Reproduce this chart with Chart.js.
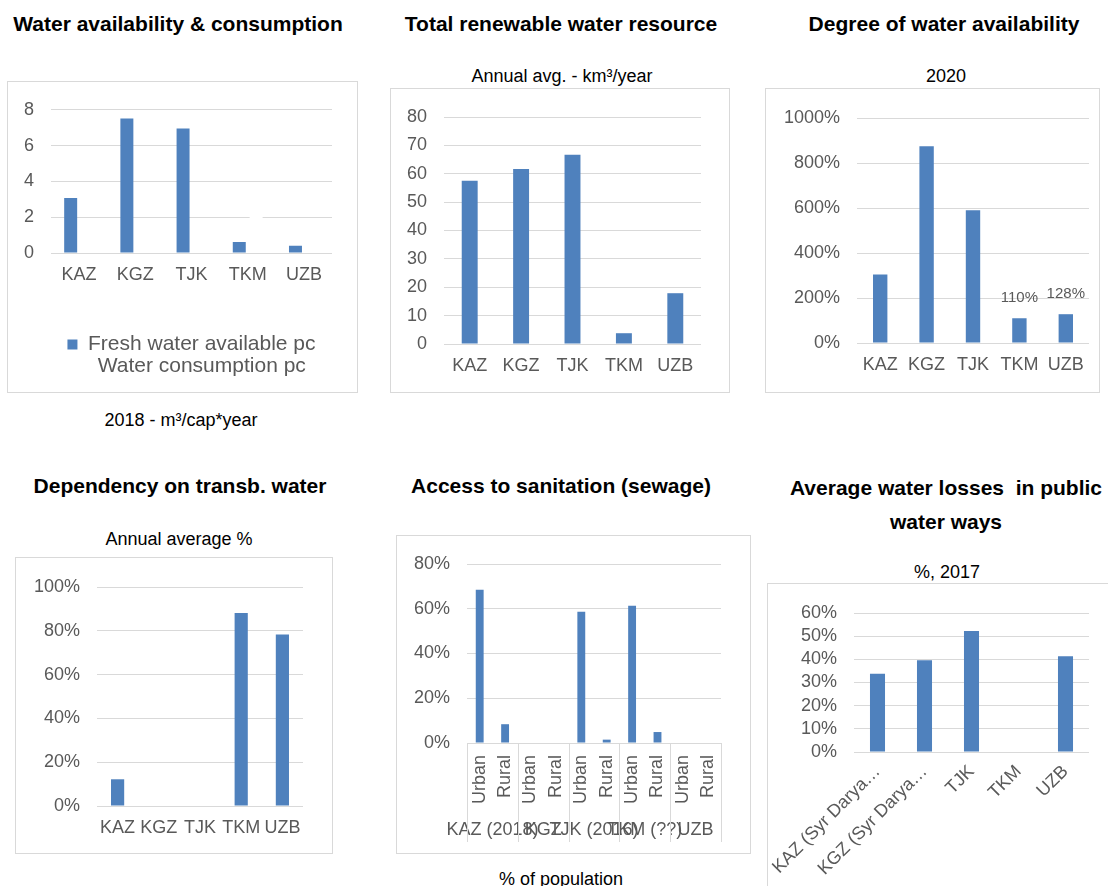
<!DOCTYPE html>
<html><head><meta charset="utf-8">
<script src="https://cdn.jsdelivr.net/npm/chart.js@4.4.1/dist/chart.umd.min.js"></script>
<style>
html,body{margin:0;padding:0;background:#fff;}
body{width:1108px;height:886px;overflow:hidden;position:relative;font-family:'Liberation Sans',Arial,sans-serif;}
.t{position:absolute;width:500px;text-align:center;white-space:nowrap;line-height:1.2;}
.h{font-weight:bold;font-size:21px;color:#000;}
.s{font-size:18px;color:#000;}
.box{position:absolute;border:1px solid #d9d9d9;box-sizing:border-box;}
canvas{position:absolute;}
</style></head><body>
<div class="t h" style="left:-72px;top:11px">Water availability &amp; consumption</div>
<div class="t h" style="left:311px;top:11px">Total renewable water resource</div>
<div class="t h" style="left:694px;top:11px">Degree of water availability</div>
<div class="t h" style="left:-70px;top:473px">Dependency on transb. water</div>
<div class="t h" style="left:311px;top:473px">Access to sanitation (sewage)</div>
<div class="t h" style="left:696px;top:471px;line-height:34px">Average water losses&nbsp; in public<br>water ways</div>
<div class="t s" style="left:-69px;top:410px">2018 - m³/cap*year</div>
<div class="t s" style="left:312px;top:66px">Annual avg. - km³/year</div>
<div class="t s" style="left:696px;top:66px">2020</div>
<div class="t s" style="left:-71px;top:529px">Annual average %</div>
<div class="t s" style="left:311px;top:869px">% of population</div>
<div class="t s" style="left:697px;top:562px">%, 2017</div>
<script>
// ---- data ----
const countries = ['KAZ', 'KGZ', 'TJK', 'TKM', 'UZB'];
const freshWaterAvailablePc = [3.07, 7.52, 6.96, 0.61, 0.40];
const waterConsumptionPc = [1.3, 1.5, 1.2, 2.8, 1.7]; // drawn in white in the original
const renewableWaterKm3 = [57.5, 61.7, 66.7, 3.8, 17.9];
const waterAvailabilityPct = [305, 874, 590, 110, 128];
const availabilityLabelled = ['TKM', 'UZB'];
const transbDependencyPct = [12.2, null, null, 88.1, 78.3];
const sanitationGroups = ['KAZ (2018)', 'KGZ', 'TJK (2016)', 'TKM (??)', 'UZB'];
const sanitationAreas = ['Urban', 'Rural', 'Urban', 'Rural', 'Urban', 'Rural', 'Urban', 'Rural', 'Urban', 'Rural'];
const sanitationPct = [68.5, 8.4, null, null, 58.7, 1.5, 61.3, 4.9, null, null];
const lossCategories = ['KAZ (Syr Darya…', 'KGZ (Syr Darya…', 'TJK', 'TKM', 'UZB'];
const waterLossPct = [33.8, 39.6, 52.2, null, 41.3];

// ---- style ----
const BLUE = '#4F81BD', GRID = '#D9D9D9', TXT = '#595959';
const FONT = "'Liberation Sans', Arial, sans-serif";
Chart.defaults.font.family = FONT;
Chart.defaults.color = TXT;
Chart.defaults.animation = false;

function mount(id, box) {
  const d = document.createElement('div');
  d.className = 'box';
  d.style.left = box.l + 'px'; d.style.top = box.t + 'px';
  d.style.width = (box.r - box.l) + 'px'; d.style.height = (box.b - box.t) + 'px';
  document.body.appendChild(d);
  const c = document.createElement('canvas');
  c.id = id;
  c.width = box.r - box.l - 2; c.height = box.b - box.t - 2;
  c.style.left = (box.l + 1) + 'px'; c.style.top = (box.t + 1) + 'px';
  c.style.width = c.width + 'px'; c.style.height = c.height + 'px';
  document.body.appendChild(c);
  return c;
}
function yScale(width, max, step, suffix) {
  return {
    min: 0, max: max,
    ticks: {stepSize: step, padding: 17, font: {size: 18}, color: TXT, autoSkip: false,
            callback: v => v + suffix},
    grid: {color: GRID, drawTicks: false, lineWidth: 1},
    border: {display: false},
    afterFit: s => { s.width = width; }
  };
}
function xScale(height, padding, rotation) {
  return {
    offset: true,
    grid: {display: false, drawTicks: false},
    border: {display: false},
    ticks: {padding: padding, font: {size: 18}, color: TXT, autoSkip: false,
            maxRotation: rotation, minRotation: rotation},
    afterFit: s => { s.height = height; s.paddingLeft = 0; s.paddingRight = 0; }
  };
}
const noTip = {enabled: false};

// value labels for chart 3
const barValueLabels = {
  id: 'barValueLabels',
  afterDatasetsDraw(chart, args, opts) {
    const meta = chart.getDatasetMeta(0), ctx = chart.ctx;
    ctx.save();
    ctx.font = '15px ' + FONT; ctx.fillStyle = TXT;
    ctx.textAlign = 'center'; ctx.textBaseline = 'middle';
    chart.data.labels.forEach((lab, i) => {
      if (!opts.show || !opts.show.includes(lab)) return;
      const bar = meta.data[i];
      ctx.fillText(chart.data.datasets[0].data[i] + '%', bar.x, bar.y - 20);
    });
    ctx.restore();
  }
};
// group separators for chart 5
const groupSeparators = {
  id: 'groupSeparators',
  afterDraw(chart) {
    const x2 = chart.scales.x2, ctx = chart.ctx;
    const n = x2.getLabels().length;
    const half = (x2.getPixelForTick(1) - x2.getPixelForTick(0)) / 2;
    const y0 = chart.chartArea.bottom, y1 = x2.top + 29;
    ctx.save();
    ctx.strokeStyle = GRID; ctx.lineWidth = 1;
    ctx.beginPath();
    for (let g = 0; g <= n; g++) {
      const p = g < n ? x2.getPixelForTick(g) - half : x2.getPixelForTick(n - 1) + half;
      const px = Math.round(p) + 0.5;
      ctx.moveTo(px, y0); ctx.lineTo(px, y1);
    }
    ctx.stroke();
    ctx.restore();
  }
};

// 1 Water availability & consumption
new Chart(mount('c1', {l: 7, t: 81, r: 358, b: 393}), {
  type: 'bar',
  data: {labels: countries, datasets: [
    {label: 'Fresh water available pc', data: freshWaterAvailablePc, backgroundColor: BLUE,
     categoryPercentage: 0.6, barPercentage: 0.77},
    {label: 'Water consumption pc', data: waterConsumptionPc, backgroundColor: '#FFFFFF',
     categoryPercentage: 0.6, barPercentage: 0.77}
  ]},
  options: {
    responsive: false,
    layout: {padding: {left: 0, top: 27, right: 25, bottom: 5}},
    plugins: {
      legend: {position: 'bottom', fullSize: false,
        labels: {boxWidth: 10, boxHeight: 10, padding: 1, font: {size: 21}, color: TXT}},
      tooltip: noTip
    },
    scales: {x: xScale(80, 11, 0), y: yScale(43, 8, 2, '')}
  }
});

// 2 Total renewable water resource
new Chart(mount('c2', {l: 390, t: 88, r: 730, b: 393}), {
  type: 'bar',
  data: {labels: countries, datasets: [
    {label: 'Total renewable water resource', data: renewableWaterKm3, backgroundColor: BLUE,
     categoryPercentage: 1, barPercentage: 0.31}
  ]},
  options: {
    responsive: false,
    layout: {padding: {left: 0, top: 28, right: 28, bottom: 13}},
    plugins: {legend: {display: false}, tooltip: noTip},
    scales: {x: xScale(35, 11, 0), y: yScale(53, 80, 10, '')}
  }
});

// 3 Degree of water availability
new Chart(mount('c3', {l: 765, t: 88, r: 1100, b: 393}), {
  type: 'bar',
  data: {labels: countries, datasets: [
    {label: 'Degree of water availability', data: waterAvailabilityPct, backgroundColor: BLUE,
     categoryPercentage: 1, barPercentage: 0.31}
  ]},
  plugins: [barValueLabels],
  options: {
    responsive: false,
    layout: {padding: {left: 0, top: 29, right: 10, bottom: 14}},
    plugins: {legend: {display: false}, tooltip: noTip, barValueLabels: {show: availabilityLabelled}},
    scales: {x: xScale(35, 11, 0), y: yScale(91, 1000, 200, '%')}
  }
});

// 4 Dependency on transb. water
new Chart(mount('c4', {l: 15, t: 557, r: 333, b: 854}), {
  type: 'bar',
  data: {labels: countries, datasets: [
    {label: 'Dependency on transb. water', data: transbDependencyPct, backgroundColor: BLUE,
     categoryPercentage: 1, barPercentage: 0.32}
  ]},
  options: {
    responsive: false,
    layout: {padding: {left: 0, top: 29, right: 29, bottom: 12}},
    plugins: {legend: {display: false}, tooltip: noTip},
    scales: {x: xScale(35, 11, 0), y: yScale(81, 100, 20, '%')}
  }
});

// 5 Access to sanitation (sewage)
const x2scale = {
  type: 'category', labels: sanitationGroups, position: 'bottom', offset: true, weight: 1,
  grid: {display: false, drawTicks: false}, border: {display: false},
  ticks: {padding: 6, font: {size: 18}, color: TXT, autoSkip: false, maxRotation: 0, minRotation: 0},
  afterFit: s => { s.height = 30; s.paddingLeft = 0; s.paddingRight = 0; }
};
const x1scale = xScale(70, 12, 90);
x1scale.position = 'bottom';
x1scale.weight = 0;
new Chart(mount('c5', {l: 396, t: 535, r: 751, b: 854}), {
  type: 'bar',
  data: {labels: sanitationAreas, datasets: [
    {label: 'Access to sanitation', data: sanitationPct, backgroundColor: BLUE, xAxisID: 'x',
     categoryPercentage: 1, barPercentage: 0.31}
  ]},
  plugins: [groupSeparators],
  options: {
    responsive: false,
    layout: {padding: {left: 0, top: 28, right: 29, bottom: 10}},
    plugins: {legend: {display: false}, tooltip: noTip},
    scales: {x: x1scale, x2: x2scale, y: yScale(70, 80, 20, '%')}
  }
});

// 6 Average water losses in public water ways
new Chart(mount('c6', {l: 767, t: 583, r: 1120, b: 900}), {
  type: 'bar',
  data: {labels: lossCategories, datasets: [
    {label: 'Average water losses', data: waterLossPct, backgroundColor: BLUE,
     categoryPercentage: 1, barPercentage: 0.32}
  ]},
  options: {
    responsive: false,
    layout: {padding: {left: 0, top: 29, right: 30, bottom: 17}},
    plugins: {legend: {display: false}, tooltip: noTip},
    scales: {x: xScale(130, 9, 45), y: yScale(86, 60, 10, '%')}
  }
});
</script>
</body></html>
